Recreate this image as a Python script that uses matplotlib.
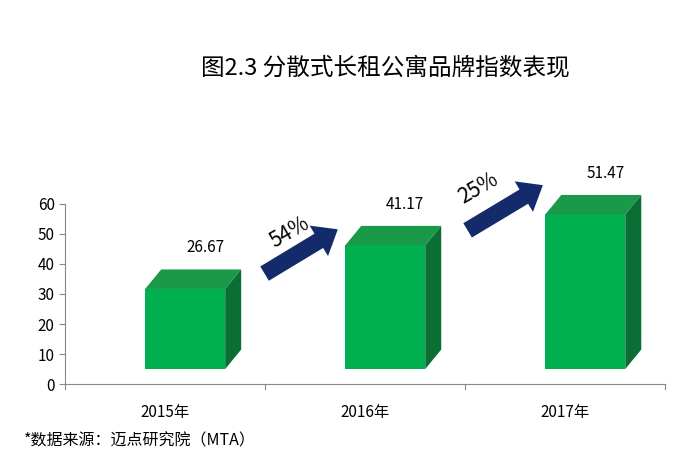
import matplotlib
matplotlib.use("Agg")
import matplotlib.pyplot as plt
from matplotlib.patches import Polygon

plt.rcParams['font.family'] = ['Noto Sans CJK SC', 'DejaVu Sans']

years = ["2015年", "2016年", "2017年"]
values = [26.67, 41.17, 51.47]
growth = ["54%", "25%"]

fig = plt.figure(figsize=(6.93, 4.73), dpi=100)
ax = fig.add_axes([0.094, 0.188, 0.866, 0.381])
ax.set_xlim(-0.5, 2.5)
ax.set_ylim(0, 60)
ax.set_yticks(range(0, 61, 10))
ax.set_xticks(range(3))
ax.set_xticklabels(years, fontsize=11)
ax.tick_params(axis='x', length=0, pad=14)
ax.tick_params(axis='y', labelsize=11, length=4, color='#888888')
for s in ['top', 'right']:
    ax.spines[s].set_visible(False)
for s in ['left', 'bottom']:
    ax.spines[s].set_color('#888888')
for t in [-0.5, 0.5, 1.5, 2.5]:
    ax.plot([t, t], [0, -1.5], color='#888888', lw=0.8, clip_on=False)

base = 5
x0, x1 = -0.1, 0.3
dx, dy = 0.08, 6.5
for i, v in enumerate(values):
    l, r = i + x0, i + x1
    top = v + base
    ax.add_patch(Polygon([(l, base), (r, base), (r, top), (l, top)], closed=True,
                         facecolor='#00B050', edgecolor='none', clip_on=False))
    ax.add_patch(Polygon([(l, top), (r, top), (r + dx, top + dy), (l + dx, top + dy)], closed=True,
                         facecolor='#1A9A48', edgecolor='none', clip_on=False))
    ax.add_patch(Polygon([(r, base), (r + dx, base + dy), (r + dx, top + dy), (r, top)], closed=True,
                         facecolor='#0B6E35', edgecolor='none', clip_on=False))
    ax.text(i + 0.2, v + 18.7, f"{v:.2f}", ha='center', va='center', fontsize=11)

arrows = [((0.485, 36.3), (0.875, 52.0)), ((1.5, 50.7), (1.9, 66.7))]
text_pos = [(0.625, 50.7), (1.565, 65.3)]
for (s, e), g, tp in zip(arrows, growth, text_pos):
    ax.annotate('', xy=e, xytext=s, annotation_clip=False,
                arrowprops=dict(arrowstyle='simple,head_width=1.6,head_length=1.0,tail_width=0.75',
                                facecolor='#132B6B', edgecolor='none', mutation_scale=16))
    ax.text(tp[0], tp[1], g, rotation=30, ha='center', va='center', fontsize=15)

fig.text(0.556, 0.856, "图2.3 分散式长租公寓品牌指数表现", ha='center', va='center', fontsize=17)
fig.text(0.035, 0.068, "*数据来源：迈点研究院（MTA）", ha='left', va='center', fontsize=11.5)

fig.savefig("out.png", dpi=100)
